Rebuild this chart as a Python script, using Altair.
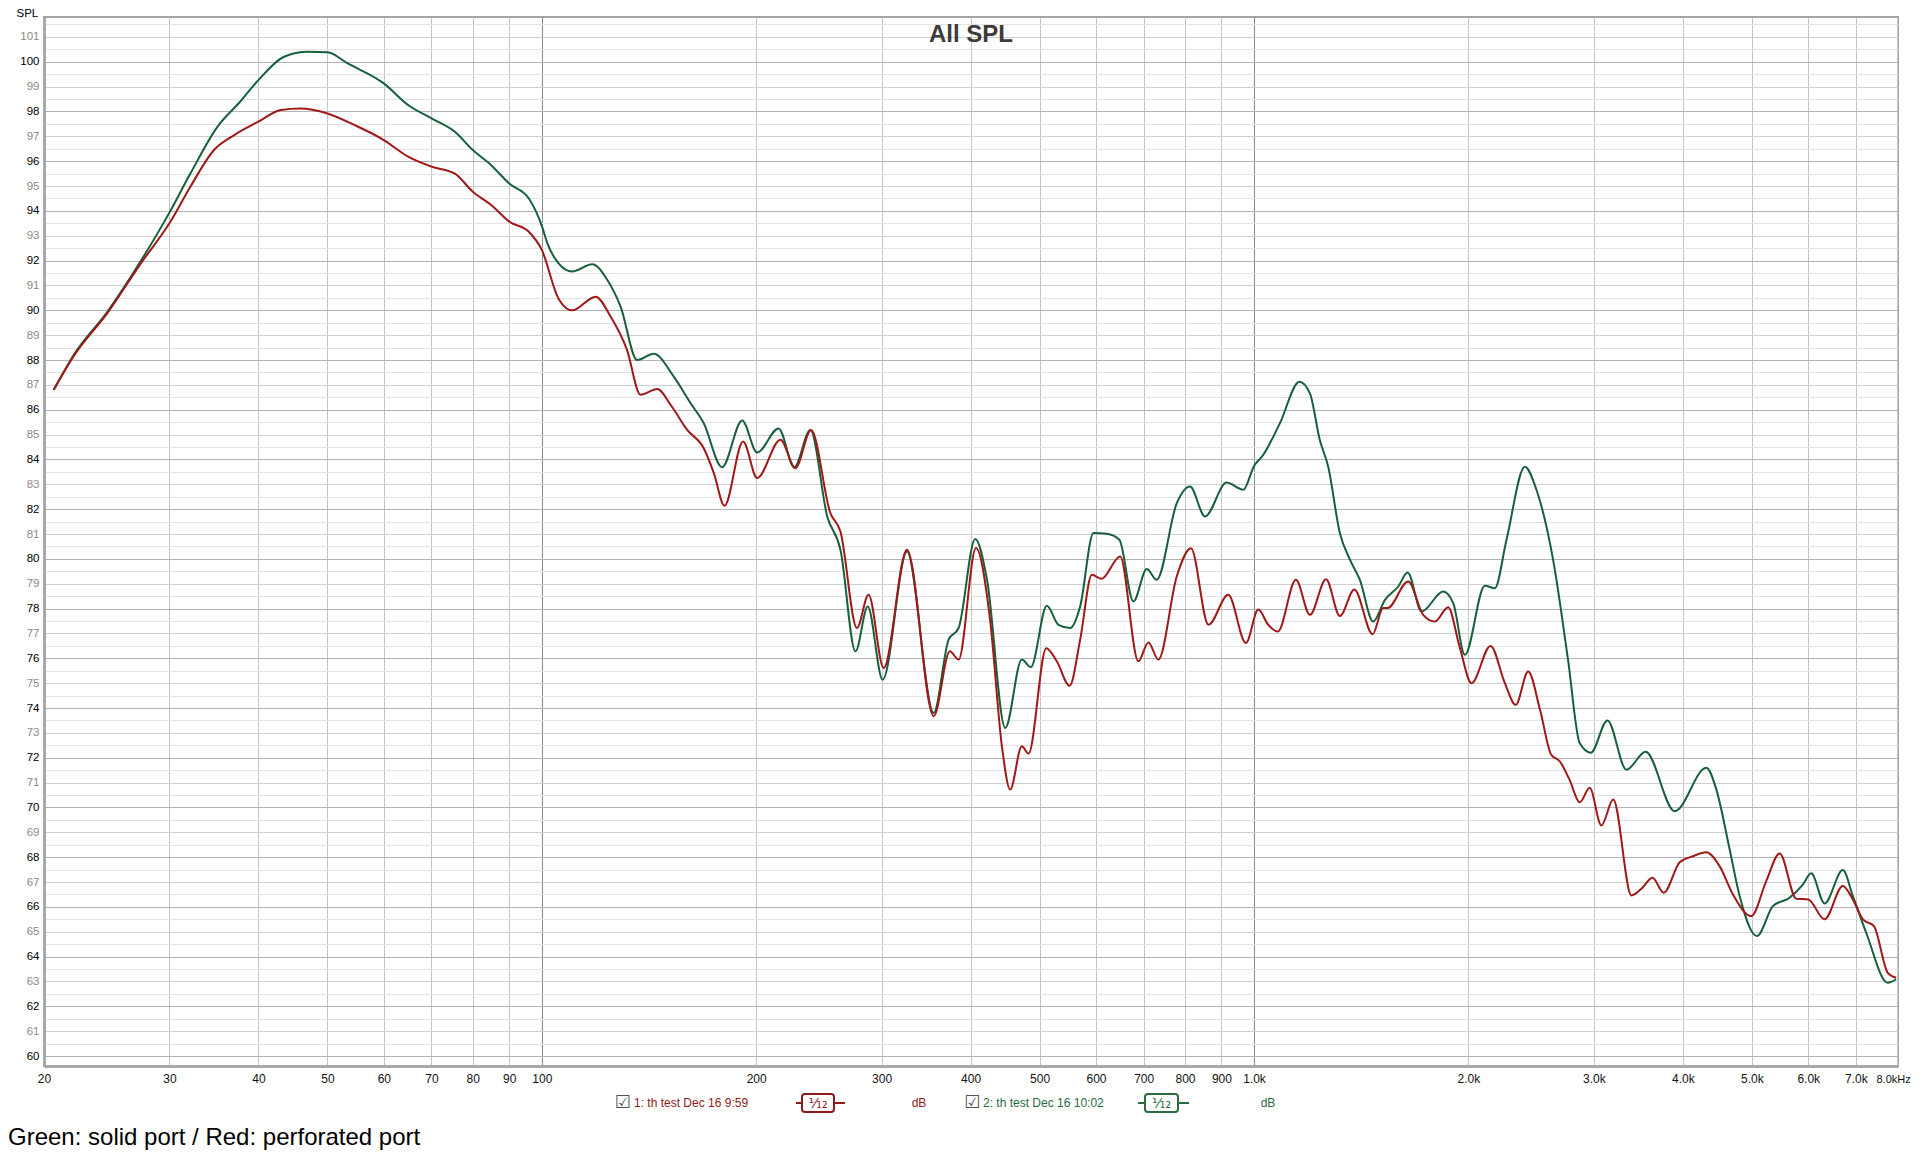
import altair as alt
import pandas as pd

# ---------------- data ----------------
green_freq = [20.64, 22.07, 24.56, 27.37, 30.0, 32.1, 35.05, 37.7, 40.0, 43.47, 46.9, 50.0, 53.4, 60.0,
              64.9, 70.0, 75.5, 80.0, 84.9, 90.0, 95.9, 100.0, 101.8, 105.5, 110.3, 117.7, 123.6, 129.0,
              136.1, 143.6, 153.2, 161.8, 168.8, 179.1, 191.1, 200.6, 215.0, 226.2, 238.3, 251.6, 262.6,
              275.7, 286.8, 301.0, 325.6, 355.0, 372.5, 384.8, 406.0, 421.8, 447.4, 472.0, 486.0, 511.8,
              531.4, 552.0, 570.0, 595.0, 621.0, 647.0, 677.0, 707.0, 730.0, 779.0, 813.0, 853.6, 915.0,
              966.0, 1000.0, 1030.0, 1087.0, 1158.0, 1198.0, 1237.0, 1271.0, 1320.0, 1364.0, 1408.0,
              1470.0, 1527.0, 1594.0, 1643.0, 1719.0, 1843.0, 1904.0, 1977.0, 2109.0, 2178.0, 2262.0,
              2400.0, 2492.0, 2630.0, 2760.0, 2866.0, 2970.0, 3135.0, 3333.0, 3547.0, 3896.0, 4316.0,
              4458.0, 4654.0, 4806.0, 5082.0, 5352.0, 5648.0, 5896.0, 6058.0, 6325.0, 6710.0, 6930.0,
              7236.0, 7760.0, 7970.0]
green_db = [86.8, 88.25, 89.95, 92.0, 93.93, 95.5, 97.39, 98.39, 99.26, 100.2, 100.4, 100.38, 99.93, 99.13,
            98.26, 97.72, 97.18, 96.45, 95.84, 95.1, 94.5, 93.4, 92.7, 91.9, 91.56, 91.85, 91.22, 90.15,
            88.0, 88.25, 87.33, 86.26, 85.46, 83.69, 85.57, 84.28, 85.25, 83.69, 85.19, 81.71, 80.37,
            76.28, 78.09, 75.14, 80.3, 73.8, 76.75, 77.22, 80.8, 79.16, 73.2, 75.95, 75.65, 78.12,
            77.35, 77.22, 78.09, 81.04, 81.01, 80.77, 78.29, 79.59, 79.16, 82.24, 82.91, 81.71, 83.07,
            82.78, 83.74, 84.18, 85.45, 87.13, 86.66, 84.78, 83.71, 81.03, 79.96, 79.16,
            77.48, 78.35, 78.89, 79.45, 77.88, 78.69, 78.22, 76.14, 78.92, 78.82, 80.77,
            83.71, 82.78, 79.96, 75.94, 72.59, 72.2, 73.5, 71.52, 72.24, 69.85, 71.6,
            70.72, 68.31, 66.44, 64.83, 66.03, 66.37, 66.9, 67.35, 66.14, 67.48, 66.44,
            64.96, 62.95, 63.09]

red_freq = [20.64, 22.07, 24.56, 27.37, 30.0, 32.1, 34.65, 37.0, 40.0, 43.0, 45.8, 50.0, 54.6, 60.0, 64.9, 70.0,
            75.5, 80.0, 84.9, 90.0, 95.9, 100.0, 105.5, 110.3, 119.0, 124.9, 131.7, 137.6, 145.2, 152.2,
            160.0, 168.8, 174.4, 180.5, 191.7, 200.6, 216.3, 227.0, 238.8, 254.2, 262.6, 277.0, 287.6,
            302.0, 325.6, 355.0, 374.0, 384.8, 407.0, 426.0, 442.6, 454.6, 472.0, 482.4, 510.8, 528.5,
            551.0, 570.0, 592.0, 611.0, 648.6, 688.0, 710.6, 734.0, 779.0, 815.6, 863.0, 920.0, 974.0,
            1014.0, 1047.0, 1080.0, 1145.0, 1198.0, 1262.0, 1320.0, 1383.0, 1467.0, 1518.0, 1540.0,
            1646.0, 1728.0, 1795.0, 1873.0, 1943.0, 2020.0, 2148.0, 2250.0, 2330.0, 2426.0, 2521.0,
            2614.0, 2687.0, 2773.0, 2866.0, 2960.0, 3074.0, 3194.0, 3388.0, 3499.0, 3626.0, 3760.0,
            3960.0, 4134.0, 4316.0, 4505.0, 4704.0, 4990.0, 5238.0, 5470.0, 5772.0, 6000.0, 6325.0,
            6710.0, 6930.0, 7160.0, 7420.0, 7760.0, 7970.0]
red_db = [86.8, 88.2, 89.9, 91.9, 93.5, 94.97, 96.45, 97.05, 97.59, 98.06, 98.12, 97.92, 97.45, 96.85, 96.18, 95.78,
          95.5, 94.77, 94.24, 93.57, 93.16, 92.43, 90.48, 90.0, 90.55, 89.75, 88.41, 86.6, 86.83, 86.13,
          85.19, 84.45, 83.45, 82.14, 84.72, 83.25, 84.79, 83.65, 85.19, 81.84, 81.1, 77.22, 78.56,
          75.61, 80.37, 73.67, 76.28, 75.95, 80.44, 77.55, 72.46, 70.72, 72.46, 72.17, 76.41, 75.88,
          74.9, 76.75, 79.36, 79.2, 80.1, 75.88, 76.64, 75.95, 79.3, 80.43, 77.35, 78.56, 76.62,
          77.96, 77.35, 77.08, 79.16, 77.75, 79.18, 77.7, 78.77, 76.97, 78.02, 78.02,
          79.09, 77.75, 77.48, 78.06, 76.48, 75.0, 76.5, 75.0, 74.13, 75.47, 73.93,
          72.12, 71.86, 71.12, 70.21, 70.79, 69.28, 70.32, 66.46, 66.73, 67.17, 66.57,
          67.8, 68.04, 68.2, 67.64, 66.5, 65.63, 67.04, 68.15, 66.33, 66.3, 65.5,
          66.84, 66.3, 65.5, 65.23, 63.35, 63.15]

x_ticks = [20, 30, 40, 50, 60, 70, 80, 90, 100, 200, 300, 400, 500, 600, 700, 800, 900,
           1000, 2000, 3000, 4000, 5000, 6000, 7000, 8000]
y_ticks = list(range(60, 102))                      # labelled dB lines
y_half_ticks = [v + 0.5 for v in range(59, 102)]   # light half-dB grid lines

title_text = "All SPL"
caption_text = "Green: solid port / Red: perforated port"
legend_names = ["1: th test Dec 16 9:59", "2: th test Dec 16 10:02"]

RED = "#a01818"
GREEN = "#17603c"
RED_TXT = "#8e1b1b"
GREEN_TXT = "#2a6b3f"

W, H = 1854, 1049
FONT = "Liberation Sans"

green_df = pd.DataFrame({"f": green_freq, "db": green_db})
red_df = pd.DataFrame({"f": red_freq, "db": red_db})

y_scale = alt.Scale(domain=[59.6, 101.8], nice=False, zero=False)

x_enc = alt.X("f:Q",
              scale=alt.Scale(type="log", domain=[20, 8020], nice=False),
              axis=alt.Axis(values=x_ticks, title=None, ticks=False,
                            labelExpr="datum.value >= 8000 ? '8.0kHz' : (datum.value >= 1000 ? format(datum.value / 1000, '.1f') + 'k' : format(datum.value, 'd'))",
                            labelAlign={"condition": {"test": "datum.value >= 8000", "value": "right"}, "value": "center"},
                            labelOffset={"condition": {"test": "datum.value >= 8000", "value": 13}, "value": 0},
                            labelFontSize={"condition": {"test": "datum.value >= 8000", "value": 11}, "value": 12},
                            labelFlush=False, labelOverlap=False, labelBound=False,
                            labelFont=FONT, labelColor="#111", labelPadding=7,
                            gridColor={"condition": {"test": "datum.value == 100 || datum.value == 1000", "value": "#8a8a8a"}, "value": "#c6c6c6"},
                            gridWidth=1, domainColor="#a8a8a8", domainWidth=3))
y_enc = alt.Y("db:Q", scale=y_scale,
              axis=alt.Axis(values=y_ticks, ticks=False, format="d",
                            labelColor={"condition": {"test": "datum.value % 2 == 0", "value": "#000000"}, "value": "#8a8a8a"},
                            gridColor={"condition": {"test": "datum.value % 2 == 0", "value": "#b4b4b4"}, "value": "#cfcfcf"},
                            labelOverlap=False, labelFlush=False, labelBound=False,
                            labelFont=FONT, labelFontSize=11.5, labelPadding=5,
                            domainColor="#a8a8a8", domainWidth=3,
                            title="SPL", titleAngle=0, titleX=-28, titleY=-4, titleAlign="left",
                            titleBaseline="middle", titleFont=FONT, titleFontSize=11.5,
                            titleFontWeight="normal", titleColor="#000"))
y_half_enc = alt.Y("db:Q", scale=y_scale,
                   axis=alt.Axis(values=y_half_ticks, orient="right", labels=False, ticks=False,
                                 domain=False, title=None, grid=True, gridColor="#e3e3e3"))

green_line = alt.Chart(green_df).mark_line(color=GREEN, strokeWidth=2, interpolate="monotone", clip=True).encode(x=x_enc, y=y_enc)
red_line = alt.Chart(red_df).mark_line(color=RED, strokeWidth=2, interpolate="monotone", clip=True).encode(x="f:Q", y=y_half_enc)

one = pd.DataFrame({"t": [title_text]})
title = alt.Chart(one).mark_text(font=FONT, fontSize=24, fontWeight="bold", color="#3c3c3c",
                                 align="center", baseline="middle").encode(
    x=alt.value(W / 2), y=alt.value(18), text="t:N")

cap = pd.DataFrame({"t": [caption_text]})
caption = alt.Chart(cap).mark_text(font=FONT, fontSize=24, color="#000", align="left",
                                   baseline="middle").encode(x=alt.value(-36), y=alt.value(1121), text="t:N")

# legend row under the axis (pixel positions, scale=None)
LY = 1086
leg_txt = pd.DataFrame({
    "px": [578.5, 590, 875, 928, 939, 1224],
    "t": ["\u2611", legend_names[0], "dB", "\u2611", legend_names[1], "dB"],
    "c": ["#555555", RED_TXT, RED_TXT, "#555555", GREEN_TXT, GREEN_TXT],
    "a": ["center", "left", "center", "center", "left", "center"],
    "fnt": ["DejaVu Sans", FONT, FONT, "DejaVu Sans", FONT, FONT],
})
legend_parts = []
for _, r in leg_txt.iterrows():
    d = pd.DataFrame({"px": [r["px"]], "t": [r["t"]]})
    legend_parts.append(alt.Chart(d).mark_text(font=r["fnt"], fontSize=18 if r["t"] == "\u2611" else 12,
                                               color=r["c"], align=r["a"], baseline="middle").encode(
        x=alt.X("px:Q", scale=None), y=alt.value(LY), text="t:N"))

sym = pd.DataFrame({
    "l1": [752, 1094], "l2": [801, 1145],
    "b1": [758, 1101], "b2": [790, 1134],
    "c": ["s1", "s2"],
    "lab": ["\u00b9\u2044\u2081\u2082", "\u00b9\u2044\u2081\u2082"],
})
sym["bm"] = (sym["b1"] + sym["b2"]) / 2
col_scale = alt.Scale(domain=["s1", "s2"], range=[RED_TXT, GREEN_TXT])
sym_line = alt.Chart(sym).mark_rule(strokeWidth=2).encode(
    x=alt.X("l1:Q", scale=None), x2="l2:Q", y=alt.value(LY),
    color=alt.Color("c:N", scale=col_scale, legend=None))
sym_box = alt.Chart(sym).mark_rect(fill="white", strokeWidth=2, cornerRadius=3).encode(
    x=alt.X("b1:Q", scale=None), x2="b2:Q", y=alt.value(LY - 9), y2=alt.value(LY + 9),
    stroke=alt.Stroke("c:N", scale=col_scale, legend=None))
sym_txt = alt.Chart(sym).mark_text(font="DejaVu Sans", fontSize=14, baseline="middle", align="center").encode(
    x=alt.X("bm:Q", scale=None), y=alt.value(LY + 1), text="lab:N",
    color=alt.Color("c:N", scale=col_scale, legend=None))

chart = alt.layer(green_line, red_line, title, caption, *legend_parts, sym_line, sym_box, sym_txt).resolve_scale(
    color="independent", stroke="independent"
).resolve_axis(y="independent").properties(
    width=W, height=H,
    autosize=alt.AutoSizeParams(type="none"),
    padding={"left": 36, "top": 9, "right": 14, "bottom": 86},
    background="white",
).configure_view(stroke="#a4a4a4", strokeWidth=2)

chart.save("out.html", embed_options={"renderer": "svg", "actions": False})
